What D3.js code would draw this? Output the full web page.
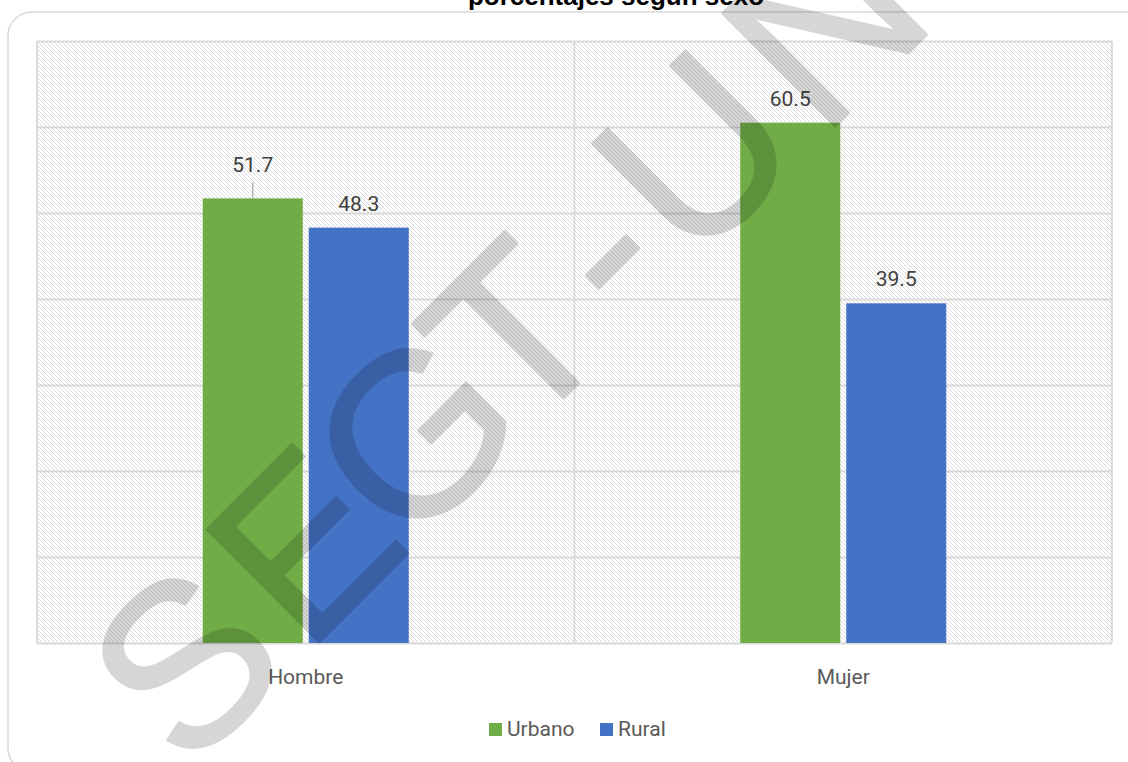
<!DOCTYPE html>
<html>
<head>
<meta charset="utf-8">
<script src="https://cdn.jsdelivr.net/npm/d3@7"></script>
<style>
  html, body { margin: 0; padding: 0; background: #fff; }
  svg { display: block; }
</style>
</head>
<body>
<svg id="chart" width="1128" height="762"></svg>
<script>
// ---- data ----
const titleText = "porcentajes según sexo";
const categories = ["Hombre", "Mujer"];
const seriesNames = ["Urbano", "Rural"];
const urbano = [51.7, 60.5];
const rural = [48.3, 39.5];
const yTicks = [0, 10, 20, 30, 40, 50, 60, 70];
const seriesColors = ["#70AD47", "#4472C4"];
const watermarkLetters = ["S", "E", "G", "T", "-", "U", "N"];
const watermarkPos = [-338, -170, -14, 128, 248, 383, 566];

const seriesValues = [urbano, rural];
const table = categories.map((c, i) => ({
  category: c,
  values: seriesNames.map((s, j) => ({ series: s, value: seriesValues[j][i], si: j }))
}));

const svg = d3.select("#chart");
const plot = { left: 37, right: 1112, top: 41, bottom: 643 };
const gridColor = "#d9d9d9";

// pattern
const defs = svg.append("defs");
const pat = defs.append("pattern")
  .attr("id", "hatch").attr("patternUnits", "userSpaceOnUse")
  .attr("width", 4).attr("height", 4);
pat.append("rect").attr("width", 4).attr("height", 4).attr("fill", "#fff");
pat.append("path").attr("d", "M-1,-1 L5,5 M-1,3 L1,5 M3,-1 L5,1")
  .attr("stroke", "#dadada").attr("stroke-width", 1);

// outer rounded border
svg.append("rect")
  .attr("x", 8).attr("y", 12).attr("width", 1140).attr("height", 760)
  .attr("rx", 24).attr("ry", 24)
  .attr("fill", "none").attr("stroke", gridColor).attr("stroke-width", 1.5);

// title
svg.append("text")
  .attr("x", 616).attr("y", 5)
  .attr("text-anchor", "middle")
  .attr("font-family", "'Liberation Sans', Arial, sans-serif")
  .attr("font-weight", "bold").attr("font-size", 26)
  .attr("fill", "#000")
  .text(titleText);

// scales
const x0 = d3.scaleBand().domain(categories).range([plot.left, plot.right]);
const groupWidth = 206;
const x1 = d3.scaleBand().domain(seriesNames).range([0, groupWidth]).paddingInner(0.0566);
const y = d3.scaleLinear().domain([0, 70]).range([plot.bottom, plot.top]);

// plot background
svg.append("rect")
  .attr("x", plot.left).attr("y", plot.top)
  .attr("width", plot.right - plot.left).attr("height", plot.bottom - plot.top)
  .attr("fill", "url(#hatch)");

// horizontal gridlines
const yAxis = d3.axisLeft(y).tickValues(yTicks).tickSize(-(plot.right - plot.left)).tickFormat("");
const gy = svg.append("g").attr("transform", `translate(${plot.left},0)`).call(yAxis);
gy.select(".domain").remove();
gy.selectAll(".tick line").attr("stroke", gridColor).attr("stroke-width", 1.8);

// vertical gridlines (category boundaries)
const vLines = [plot.left, ...categories.slice(1).map(c => x0(c)), plot.right];
svg.append("g").selectAll("line").data(vLines).join("line")
  .attr("x1", d => d).attr("x2", d => d)
  .attr("y1", plot.top).attr("y2", plot.bottom)
  .attr("stroke", gridColor).attr("stroke-width", 1.8);

// bars
const groups = svg.append("g").selectAll("g").data(table).join("g")
  .attr("transform", d => `translate(${x0(d.category) + (x0.bandwidth() - groupWidth) / 2},0)`);

groups.selectAll("rect").data(d => d.values).join("rect")
  .attr("x", d => x1(d.series))
  .attr("y", d => y(d.value))
  .attr("width", x1.bandwidth())
  .attr("height", d => y(0) - y(d.value))
  .attr("fill", d => seriesColors[d.si]);

// value labels
const labelFont = "Roboto, 'Noto Sans', sans-serif";
const liftedLabel = { category: "Hombre", series: "Urbano" };
groups.each(function(g) {
  const sel = d3.select(this);
  g.values.forEach(v => {
    const cx = x1(v.series) + x1.bandwidth() / 2;
    const lifted = g.category === liftedLabel.category && v.series === liftedLabel.series;
    const by = y(v.value);
    sel.append("text")
      .attr("x", cx).attr("y", lifted ? by - 26 : by - 17)
      .attr("text-anchor", "middle")
      .attr("font-family", labelFont).attr("font-size", 21)
      .attr("fill", "#404040")
      .text(v.value.toFixed(1));
    if (lifted) {
      sel.append("line")
        .attr("x1", cx).attr("x2", cx)
        .attr("y1", by - 16).attr("y2", by)
        .attr("stroke", "#a6a6a6").attr("stroke-width", 1.2);
    }
  });
});

// category labels
svg.append("g").selectAll("text").data(categories).join("text")
  .attr("x", d => x0(d) + x0.bandwidth() / 2)
  .attr("y", 684)
  .attr("text-anchor", "middle")
  .attr("font-family", labelFont).attr("font-size", 21)
  .attr("fill", "#595959")
  .text(d => d);

// legend
const legendItems = [
  { name: seriesNames[0], color: seriesColors[0], x: 489 },
  { name: seriesNames[1], color: seriesColors[1], x: 600 }
];
const lg = svg.append("g");
legendItems.forEach(it => {
  lg.append("rect").attr("x", it.x).attr("y", 723).attr("width", 13).attr("height", 13).attr("fill", it.color);
  lg.append("text").attr("x", it.x + 18).attr("y", 736)
    .attr("font-family", labelFont).attr("font-size", 21)
    .attr("fill", "#595959").text(it.name);
});

// watermark
const wm = svg.append("g").attr("opacity", 0.155)
  .append("g").attr("transform", "rotate(-45)")
  .attr("fill", "#000").attr("stroke", "#000").attr("stroke-width", 2.5)
  .attr("stroke-linejoin", "round")
  .attr("font-family", "'Liberation Sans', Arial, sans-serif").attr("font-size", 232);
wm.selectAll("text").data(watermarkLetters).join("text")
  .attr("x", (d, i) => watermarkPos[i]).attr("y", 680)
  .attr("text-anchor", "middle")
  .text(d => d);
</script>
</body>
</html>
